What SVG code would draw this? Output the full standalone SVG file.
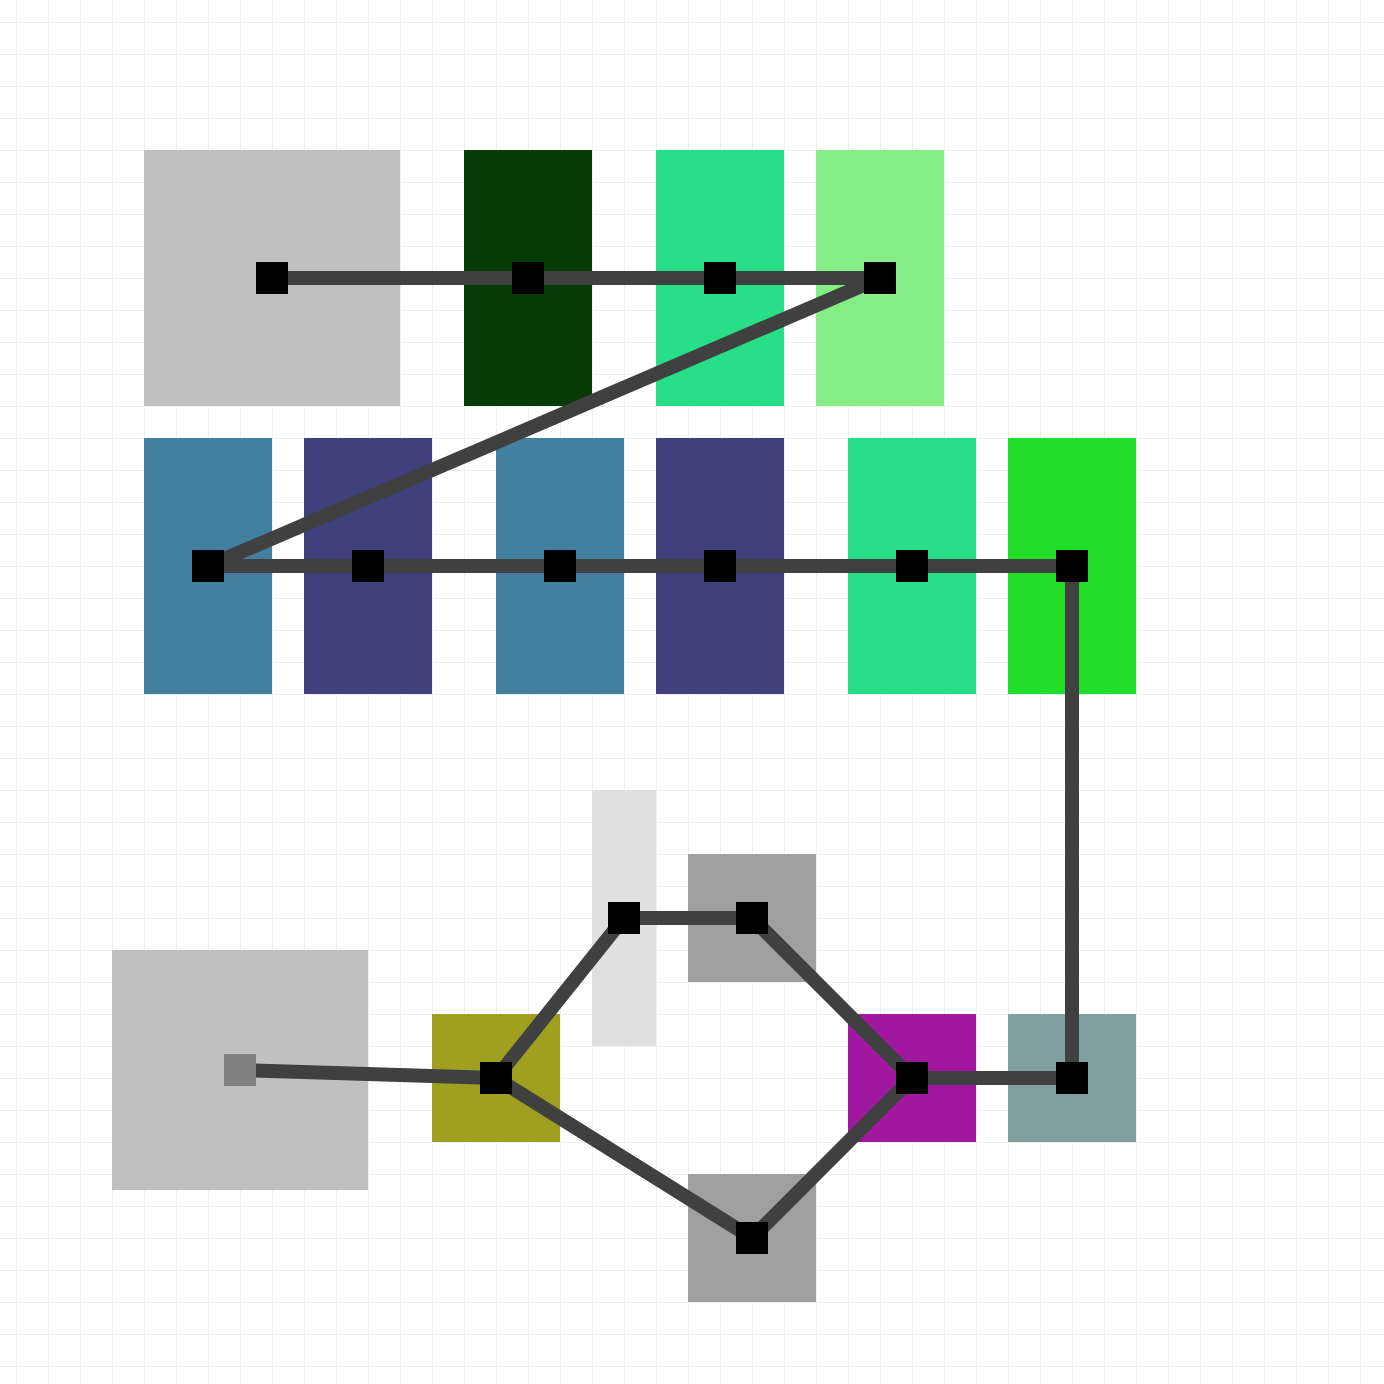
<svg xmlns="http://www.w3.org/2000/svg" width="1384" height="1384" viewBox="0 0 1384 1384">
<defs>
<style>
.c{stroke:#404040;stroke-width:14;fill:none;stroke-linejoin:round}
.h{fill:#000}
.hg{fill:#808080}
</style>
<pattern id="grid" x="16" y="22" width="32" height="32" patternUnits="userSpaceOnUse">
<path d="M0 0H32M0 0V32" stroke="#efefef" stroke-width="2" fill="none"/>
</pattern>
</defs>
<rect width="1384" height="1384" fill="#fff"/>
<rect width="1384" height="1384" fill="url(#grid)"/>
<g id="nodes">
<g id="n1"><rect x="144" y="150" width="256" height="256" fill="#c0c0c0"/></g>
<g id="n2"><rect x="464" y="150" width="128" height="256" fill="#053c05"/></g>
<g id="n3"><rect x="656" y="150" width="128" height="256" fill="#28de88"/></g>
<g id="n4"><rect x="816" y="150" width="128" height="256" fill="#86ec86"/></g>
<g id="n5"><rect x="144" y="438" width="128" height="256" fill="#437f9f"/></g>
<g id="n6"><rect x="304" y="438" width="128" height="256" fill="#40407d"/></g>
<g id="n7"><rect x="496" y="438" width="128" height="256" fill="#437f9f"/></g>
<g id="n8"><rect x="656" y="438" width="128" height="256" fill="#40407d"/></g>
<g id="n9"><rect x="848" y="438" width="128" height="256" fill="#28de88"/></g>
<g id="n10"><rect x="1008" y="438" width="128" height="256" fill="#22de28"/></g>
<g id="n11"><rect x="112" y="950" width="256" height="240" fill="#c0c0c0"/></g>
<g id="n12"><rect x="432" y="1014" width="128" height="128" fill="#a0a020"/></g>
<g id="n13"><rect x="592" y="790" width="64" height="256" fill="#e0e0e0"/></g>
<g id="n14"><rect x="688" y="854" width="128" height="128" fill="#a0a0a0"/></g>
<g id="n15"><rect x="848" y="1014" width="128" height="128" fill="#a0189f"/></g>
<g id="n16"><rect x="1008" y="1014" width="128" height="128" fill="#80a09f"/></g>
<g id="n17"><rect x="688" y="1174" width="128" height="128" fill="#a0a0a0"/></g>
</g>
<g id="connectors">
<polyline class="c" points="272,278 528,278 720,278 880,278 208,566 368,566 560,566 720,566 912,566 1072,566 1072,1078 912,1078"/>
<polyline class="c" points="240,1070 496,1078"/>
<polyline class="c" points="496,1078 624,918 752,918 912,1078"/>
<polyline class="c" points="496,1078 752,1238 912,1078"/>
</g>
<g id="handles">
<rect class="h" x="256" y="262" width="32" height="32"/>
<rect class="h" x="512" y="262" width="32" height="32"/>
<rect class="h" x="704" y="262" width="32" height="32"/>
<rect class="h" x="864" y="262" width="32" height="32"/>
<rect class="h" x="192" y="550" width="32" height="32"/>
<rect class="h" x="352" y="550" width="32" height="32"/>
<rect class="h" x="544" y="550" width="32" height="32"/>
<rect class="h" x="704" y="550" width="32" height="32"/>
<rect class="h" x="896" y="550" width="32" height="32"/>
<rect class="h" x="1056" y="550" width="32" height="32"/>
<rect class="hg" x="224" y="1054" width="32" height="32"/>
<rect class="h" x="480" y="1062" width="32" height="32"/>
<rect class="h" x="608" y="902" width="32" height="32"/>
<rect class="h" x="736" y="902" width="32" height="32"/>
<rect class="h" x="896" y="1062" width="32" height="32"/>
<rect class="h" x="1056" y="1062" width="32" height="32"/>
<rect class="h" x="736" y="1222" width="32" height="32"/>
</g>
</svg>
